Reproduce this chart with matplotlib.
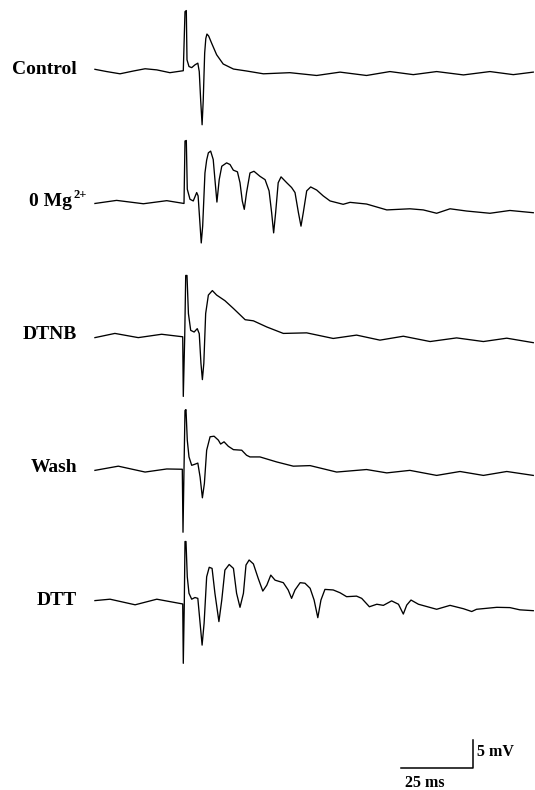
import matplotlib
matplotlib.use("Agg")
import matplotlib.pyplot as plt

# Field potential traces, time in ms after the stimulus, voltage in mV
labels = ["Control", "0 Mg", "DTNB", "Wash", "DTT"]
mg_sup = "2+"

control_t = [-31.6, -27.5, -22.8, -18.1, -14.0, -9.9, -5.3, -0.6, 0.0, 0.46, 0.7, 1.4, 2.35, 3.5, 4.5,
             5.0, 5.5, 6.0, 6.4, 6.9, 7.3, 7.7, 8.3, 9.4, 11.1, 13.4, 17.0, 21.6, 27.5, 36.8, 46.2, 54.4,
             63.7, 71.9, 80.1, 88.3, 97.7, 107.0, 115.2, 122.2]
control_v = [0.3, -0.1, -0.5, 0.0, 0.4, 0.2, -0.3, 0.05, 10.6, 10.8, 2.0, 0.8, 0.6, 1.1, 1.4,
             -0.1, -5.2, -9.6, -5.2, 3.2, 5.8, 6.6, 6.25, 4.9, 2.9, 1.25, 0.35, 0.0, -0.5, -0.3, -0.8, -0.2,
             -0.8, -0.1, -0.65, -0.1, -0.7, -0.1, -0.65, -0.2]

mg_t = [-31.6, -24.0, -14.6, -6.4, -0.35, 0.0, 0.46, 0.8, 1.75, 2.9, 4.1, 4.6, 5.15, 5.7, 6.2,
        7.0, 7.6, 8.2, 9.0, 9.9, 10.6, 11.2, 12.0, 12.9, 14.6, 15.8, 16.95, 18.4, 19.3, 20.1, 20.8,
        21.6, 22.8, 24.2, 26.3, 28.1, 29.5, 30.4, 31.1, 31.8, 32.7, 33.7, 35.7, 37.4, 38.6, 39.8,
        40.7, 41.5, 42.7, 44.1, 46.2, 48.5, 50.9, 55.5, 57.9, 63.7, 70.8, 78.9, 83.6, 88.3, 93.0,
        98.8, 107.0, 114.0, 122.2]
mg_v = [0.05, 0.6, 0.0, 0.55, 0.05, 11.2, 11.3, 2.6, 0.8, 0.5, 2.0, 1.4, -2.8, -7.0, -4.0,
        5.5, 7.8, 9.1, 9.4, 7.9, 3.75, 0.3, 4.3, 6.7, 7.3, 7.0, 6.0, 5.7, 3.75, 0.5, -1.0,
        2.0, 5.5, 5.8, 4.9, 4.3, 2.3, -1.6, -5.2, -1.6, 3.75, 4.8, 3.75, 2.9, 2.0, -1.6,
        -4.0, -1.6, 2.3, 3.0, 2.45, 1.4, 0.5, -0.1, 0.25, -0.05, -1.1, -0.9, -1.1, -1.7, -0.9,
        -1.3, -1.7, -1.2, -1.6]

dtnb_t = [-31.6, -24.6, -16.4, -8.2, -0.8, -0.6, -0.1, 0.25, 0.7, 1.2, 2.0, 3.2, 4.3, 5.0, 5.6,
          6.1, 6.6, 7.25, 8.2, 9.6, 11.1, 14.0, 17.0, 21.1, 24.0, 28.7, 34.5, 42.7, 52.0, 60.2,
          68.4, 76.6, 86.0, 95.3, 104.7, 112.9, 122.2]
dtnb_v = [-0.2, 0.55, -0.2, 0.4, -0.05, -10.7, -0.05, 10.9, 10.9, 4.1, 1.1, 0.8, 1.4, 0.5, -4.8,
          -7.7, -4.8, 4.1, 7.4, 8.2, 7.4, 6.4, 5.0, 3.0, 2.8, 1.7, 0.55, 0.65, -0.35, 0.25,
          -0.65, 0.05, -0.9, -0.25, -0.9, -0.3, -1.1]

wash_t = [-31.6, -23.4, -14.0, -6.4, -0.95, -0.7, -0.35, 0.0, 0.35, 0.8, 1.4, 2.35, 3.5, 4.5, 5.3,
          6.1, 6.8, 7.6, 8.8, 10.2, 11.7, 12.5, 13.7, 15.2, 17.0, 19.9, 21.6, 22.8, 26.3, 32.2,
          38.0, 43.9, 53.2, 63.7, 70.8, 78.9, 88.3, 96.5, 104.7, 112.9, 122.2]
wash_v = [-0.2, 0.55, -0.5, 0.05, 0.0, -11.25, 0.0, 10.5, 10.65, 5.2, 2.2, 0.7, 0.9, 1.1, -1.4,
          -5.1, -2.55, 3.4, 5.8, 5.9, 5.2, 4.5, 4.9, 4.1, 3.5, 3.4, 2.5, 2.2, 2.2, 1.3,
          0.55, 0.65, -0.5, -0.05, -0.65, -0.2, -1.1, -0.4, -1.1, -0.4, -1.1]

dtt_t = [-31.6, -26.3, -17.5, -9.9, -0.8, -0.6, -0.25, 0.0, 0.35, 0.8, 1.4, 2.35, 3.5, 4.5, 5.3,
         6.0, 6.7, 7.6, 8.5, 9.5, 10.5, 11.9, 12.9, 14.0, 15.5, 17.0, 18.1, 19.3, 20.5, 21.4,
         22.5, 24.0, 25.7, 27.3, 28.7, 30.1, 31.6, 34.5, 36.2, 37.4, 38.6, 40.4, 42.1, 43.9, 45.3,
         46.6, 47.7, 49.1, 52.0, 54.4, 56.7, 60.2, 62.0, 64.7, 67.3, 69.6, 72.5, 74.9, 76.6, 77.8,
         79.3, 81.9, 88.3, 93.0, 97.7, 100.6, 102.3, 109.4, 114.0, 117.5, 122.2]
dtt_v = [0.25, 0.5, -0.5, 0.5, -0.35, -10.95, -0.35, 10.8, 10.8, 4.5, 1.55, 0.5, 0.8, 0.65, -3.8,
         -7.7, -3.8, 4.5, 6.2, 6.0, 1.55, -3.5, 0.35, 5.7, 6.7, 6.0, 1.55, -0.95, 1.55, 6.6,
         7.5, 6.8, 4.2, 1.95, 3.0, 4.8, 3.9, 3.45, 2.15, 0.65, 2.15, 3.45, 3.35, 2.45, 0.35,
         -2.8, 0.35, 2.25, 2.15, 1.65, 0.95, 1.05, 0.65, -0.85, -0.4, -0.6, 0.2, -0.4, -2.15, -0.55,
         0.35, -0.4, -1.3, -0.6, -1.2, -1.7, -1.3, -0.95, -1.0, -1.4, -1.55]

traces = [(control_t, control_v), (mg_t, mg_v), (dtnb_t, dtnb_v), (wash_t, wash_v), (dtt_t, dtt_v)]

scale_ms = 25
scale_mv = 5

plt.rcParams["font.family"] = "Liberation Serif"

fig = plt.figure(figsize=(5.35, 7.9), dpi=100)
ax = fig.add_axes([0, 0, 1, 1])

# pixel scale of the original figure: 2.85 px per ms, 5.6 px per mV
px_ms, px_mv = 2.85, 5.6
stim_x = 185
ax.set_xlim(-stim_x / px_ms, (535 - stim_x) / px_ms)
ax.set_ylim(-790 / px_mv, 0)
ax.axis("off")


def px_x(x):
    return (x - stim_x) / px_ms


def px_y(y):
    return -y / px_mv


first_px, step_px = 71, 132.75
for i, (t, v) in enumerate(traces):
    base = first_px + i * step_px
    ax.plot(t, [val + px_y(base) for val in v], color="black", lw=0.95)
    if i == 1:
        ax.text(px_x(29), px_y(base + 2.5), labels[i], ha="left", va="baseline",
                fontsize=14, fontweight="bold")
        ax.text(px_x(73), px_y(base - 6), mg_sup, ha="left", va="baseline",
                fontsize=9, fontweight="bold")
    else:
        ax.text(px_x(77), px_y(base + 2.7), labels[i], ha="right", va="baseline",
                fontsize=14, fontweight="bold")

# scale bar
bar_x = px_x(472.5)
bar_y = px_y(768)
ax.plot([bar_x - scale_ms, bar_x, bar_x], [bar_y, bar_y, bar_y + scale_mv],
        color="black", lw=1.1)
ax.text(px_x(477), px_y(756), f"{scale_mv} mV", ha="left", va="baseline",
        fontsize=11.5, fontweight="bold")
ax.text(px_x(405), px_y(787), f"{scale_ms} ms", ha="left", va="baseline",
        fontsize=11.5, fontweight="bold")

fig.savefig("out.png", dpi=100)
